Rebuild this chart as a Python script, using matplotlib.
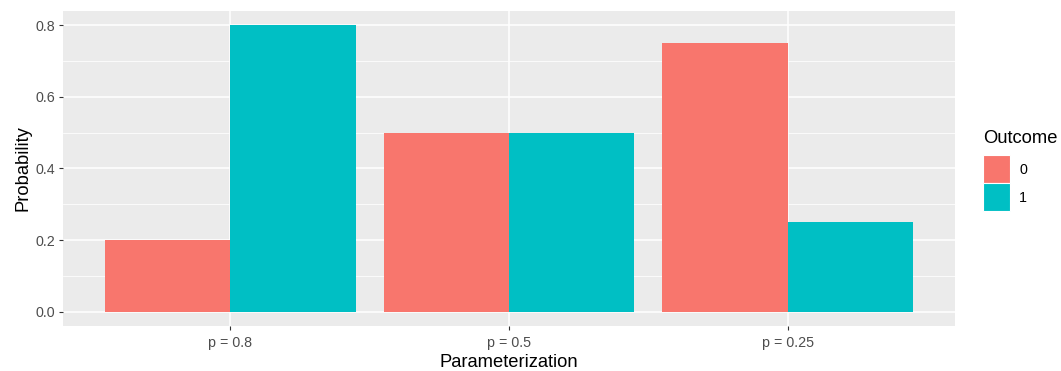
import matplotlib
matplotlib.use("Agg")
import matplotlib.pyplot as plt
import matplotlib.patches as mpatches
import numpy as np

plt.rcParams['font.family'] = ['Liberation Sans', 'DejaVu Sans']

categories = ["p = 0.8", "p = 0.5", "p = 0.25"]
outcomes = ["0", "1"]
prob_0 = [0.2, 0.5, 0.75]
prob_1 = [0.8, 0.5, 0.25]
colors = ["#F8766D", "#00BFC4"]
yticks = [0.0, 0.2, 0.4, 0.6, 0.8]
yminor = [0.1, 0.3, 0.5, 0.7]

W, H = 1061, 371
fig = plt.figure(figsize=(W / 100, H / 100), dpi=100)
ax = fig.add_axes([63 / W, 1 - 326 / H, (955 - 63) / W, (326 - 11) / H])
ax.set_facecolor("#EBEBEB")

x = np.arange(1, len(categories) + 1)
bw = 0.45
ax.bar(x - bw / 2, prob_0, width=bw, color=colors[0], zorder=3)
ax.bar(x + bw / 2, prob_1, width=bw, color=colors[1], zorder=3)

ax.set_xlim(0.4, 3.6)
ax.set_ylim(-0.04, 0.84)
ax.set_xticks(x)
ax.set_xticklabels(categories)
ax.set_yticks(yticks)
ax.set_yticklabels([f"{v:.1f}" for v in yticks])

for v in yticks:
    ax.axhline(v, color="white", lw=1.1, zorder=1)
for v in yminor:
    ax.axhline(v, color="white", lw=0.55, zorder=1)
for v in x:
    ax.axvline(v, color="white", lw=1.1, zorder=1)

for s in ax.spines.values():
    s.set_visible(False)
ax.tick_params(axis="both", colors="#333333", length=2.9, width=0.8,
               labelsize=10.3, labelcolor="#4D4D4D", pad=2.5)
ax.tick_params(axis="x", pad=4.5)

ax.set_xlabel("Parameterization", fontsize=13.2, color="black", labelpad=3)
ax.set_ylabel("Probability", fontsize=13.2, color="black", labelpad=3)

# legend
fig.text(983 / W, 1 - 138 / H, "Outcome", fontsize=13.2, va="center", ha="left")
key_tops = [155, 183]
for lab, col, top in zip(outcomes, colors, key_tops):
    rect = mpatches.Rectangle((983 / W, 1 - (top + 28) / H), 27 / W, 28 / H,
                              facecolor=col, edgecolor="white", lw=0.8,
                              transform=fig.transFigure)
    fig.add_artist(rect)
    fig.text(1019 / W, 1 - (top + 15) / H, lab, fontsize=10.3, va="center",
             ha="left", color="black")

fig.savefig("out.png", dpi=100, facecolor="white")
